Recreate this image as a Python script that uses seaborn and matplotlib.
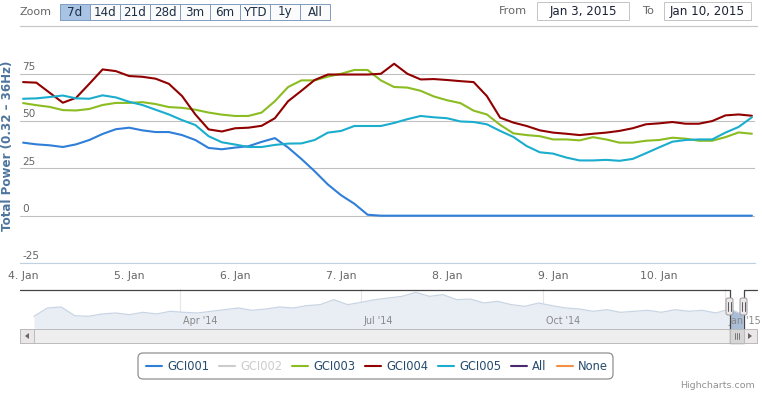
import numpy as np
import pandas as pd
import matplotlib
matplotlib.use("Agg")
import matplotlib.pyplot as plt
import matplotlib.dates as mdates
from matplotlib.ticker import FuncFormatter
from matplotlib.transforms import Affine2D
from matplotlib.patches import Rectangle, FancyBboxPatch, Polygon
from matplotlib.lines import Line2D
import seaborn as sns

W, H = 762, 393

# ---- data ----------------------------------------------------------------
start = pd.Timestamp("2015-01-04")
hours = np.arange(0, 166, 3)          # 3-hourly samples, 4 Jan 00:00 -> 10 Jan 21:00

gci001 = [38.6, 37.7, 37.2, 36.3, 37.7, 40.0, 43.2, 45.7, 46.5, 45.1, 44.2, 44.2,
          42.6, 40.0, 35.8, 35.1, 36.0, 36.7, 39.0, 41.0, 36.0, 30.0, 23.5, 16.5,
          10.8, 6.3, 0.5] + [0.0] * 29
gci003 = [59.5, 58.4, 57.5, 55.8, 55.6, 56.4, 58.5, 59.6, 59.6, 60.0, 59.0, 57.4,
          57.0, 56.0, 54.5, 53.4, 52.7, 52.7, 54.5, 60.5, 68.0, 71.5, 71.5, 73.5,
          75.0, 77.0, 77.0, 71.5, 68.0, 67.7, 66.0, 63.0, 61.0, 59.5, 55.5, 53.5,
          48.0, 43.5, 42.6, 42.0, 40.3, 40.3, 39.8, 41.5, 40.3, 38.6, 38.6, 39.6,
          40.0, 41.2, 40.7, 39.6, 39.6, 41.5, 44.0, 43.3]
gci004 = [70.6, 70.3, 65.0, 59.7, 62.3, 69.7, 77.3, 76.4, 73.8, 73.4, 72.4, 69.7,
          63.2, 53.5, 45.6, 44.5, 46.2, 46.5, 47.5, 51.5, 60.5, 66.0, 71.7, 74.6,
          74.6, 74.6, 74.6, 75.0, 80.3, 75.0, 72.0, 72.2, 71.7, 71.1, 70.6, 63.2,
          51.8, 49.2, 47.4, 45.1, 43.9, 43.3, 42.6, 43.3, 43.9, 44.8, 46.2, 48.3,
          48.8, 49.5, 48.6, 48.6, 50.0, 53.0, 53.5, 52.8]
gci005 = [61.8, 62.0, 62.7, 63.5, 62.0, 61.8, 63.6, 62.5, 60.2, 58.5, 56.0, 53.5,
          50.5, 47.9, 42.0, 38.8, 37.6, 36.3, 36.3, 37.4, 38.1, 38.2, 40.0, 43.9,
          44.8, 47.4, 47.4, 47.4, 49.0, 51.0, 52.7, 52.0, 51.5, 49.8, 49.5, 48.3,
          44.8, 41.6, 36.8, 33.5, 32.8, 30.7, 29.2, 29.2, 29.5, 29.0, 30.0, 33.0,
          36.1, 39.1, 40.0, 40.3, 40.3, 43.9, 46.9, 52.0]

legend_names = ["GCI001", "GCI002", "GCI003", "GCI004", "GCI005", "All", "None"]
palette = {"GCI001": "#2f7ed8", "GCI002": "#cccccc", "GCI003": "#8bbc21",
           "GCI004": "#910000", "GCI005": "#1aadce", "All": "#492970", "None": "#f28f43"}
hidden = ["GCI002"]

yticks = [-25, 0, 25, 50, 75]
xtick_days = pd.date_range("2015-01-04", "2015-01-10", freq="D")

# navigator: weekly overview of the last year
nav_power = [28.5, 47.3, 49.5, 30.0, 28.5, 33.8, 36.0, 32.3, 37.5, 33.8, 39.8, 37.5,
             36.0, 39.8, 43.5, 47.3, 42.0, 45.0, 49.5, 47.3, 52.5, 54.8, 66.0, 54.8,
             60.0, 66.0, 69.8, 73.5, 82.5, 73.5, 77.3, 66.0, 67.5, 58.5, 62.3, 54.8,
             51.0, 58.5, 52.5, 47.3, 45.0, 39.8, 43.5, 37.5, 39.8, 42.0, 37.5, 43.5,
             39.8, 42.0, 36.0, 45.0, 32.3]
nav_dates = pd.date_range("2014-01-17", "2015-01-10", periods=len(nav_power))
nav_ticks = pd.to_datetime(["2014-04-01", "2014-07-01", "2014-10-01", "2015-01-01"])
nav_labels = ["Apr '14", "Jul '14", "Oct '14", "Jan '15"]
sel_from, sel_to = pd.Timestamp("2015-01-03"), pd.Timestamp("2015-01-10")

range_buttons = ["7d", "14d", "21d", "28d", "3m", "6m", "YTD", "1y", "All"]

# ---- figure ----------------------------------------------------------------
sns.set_style("white")
plt.rcParams["font.family"] = ["DejaVu Sans"]

fig = plt.figure(figsize=(W / 100, H / 100), dpi=100)
pix = Affine2D().scale(1 / W, -1 / H).translate(0, 1) + fig.transFigure


def box(x0, y0, x1, y1):
    return [x0 / W, 1 - y1 / H, (x1 - x0) / W, (y1 - y0) / H]


def rect(x0, y0, x1, y1, fc, ec, lw=0.8, z=3, rounding=0):
    if rounding:
        p = FancyBboxPatch((x0, y0), x1 - x0, y1 - y0,
                           boxstyle=f"round,pad=0,rounding_size={rounding}",
                           fc=fc, ec=ec, lw=lw, transform=pix, zorder=z)
    else:
        p = Rectangle((x0, y0), x1 - x0, y1 - y0, fc=fc, ec=ec, lw=lw,
                      transform=pix, zorder=z)
    fig.add_artist(p)
    return p


def line(xs, ys, color, lw=0.8, z=4):
    fig.add_artist(Line2D(xs, ys, color=color, lw=lw, transform=pix, zorder=z))


def label(x, y, s, **kw):
    kw.setdefault("va", "center")
    return fig.text(x, y, s, transform=pix, **kw)


# main plot
ax = fig.add_axes(box(20, 38, 755, 263))
times = start + pd.to_timedelta(hours, unit="h")
series = {"GCI001": gci001, "GCI003": gci003, "GCI004": gci004, "GCI005": gci005}
df = pd.concat([pd.DataFrame({"time": times, "power": v, "sensor": k})
                for k, v in series.items()], ignore_index=True)
sns.lineplot(data=df, x="time", y="power", hue="sensor", hue_order=list(series),
             palette=palette, linewidth=1.5, legend=False, estimator=None,
             errorbar=None, ax=ax)

ax.set_ylim(-25, 93.9)
ax.set_xlim(start - pd.Timedelta(hours=0.7), start + pd.Timedelta(hours=165.7))
ax.set_yticks(yticks)
ax.set_yticklabels([])
ax.yaxis.grid(True, color="#c0c0c0", lw=0.8)
ax.tick_params(axis="y", length=0)
for v in yticks:
    ax.annotate(str(v), xy=(0, v), xycoords=("axes fraction", "data"),
                xytext=(1.5, 1.2), textcoords="offset points", ha="left",
                va="bottom", fontsize=7.6, color="#666666")
ax.set_xticks(xtick_days)
ax.xaxis.set_major_formatter(FuncFormatter(
    lambda v, p: f"{mdates.num2date(v).day}. {mdates.num2date(v):%b}"))
ax.tick_params(axis="x", length=4, width=0.8, color="#c0d0e0", pad=1.5,
               labelsize=7.8, labelcolor="#666666")
ax.set_xlabel("")
ax.set_ylabel("")
for s in ["top", "left", "right"]:
    ax.spines[s].set_visible(False)
ax.spines["bottom"].set_color("#c0d0e0")
ax.spines["bottom"].set_linewidth(0.8)

label(8, 146, "Total Power (0.32 – 36Hz)", rotation=90, ha="center",
      color="#4d759e", fontsize=8.6, fontweight="bold")

# range selector / date inputs
label(20, 12, "Zoom", ha="left", color="#666666", fontsize=8)
for i, b in enumerate(range_buttons):
    x0 = 60 + 30 * i
    rect(x0, 4, x0 + 30, 19.5, "#a8c3e3" if i == 0 else "#fbfbfb", "#7f9bbf", lw=0.7)
    label(x0 + 15, 12, b, ha="center", color="#1c2f45", fontsize=8.6)
line([20, 757], [25.5, 25.5], "#c8c8c8", lw=0.9)
label(513, 11.5, "From", ha="center", color="#666666", fontsize=8.2)
rect(537, 1.5, 629, 19.5, "white", "#c4c4c4", lw=0.7)
label(583, 11, "Jan 3, 2015", ha="center", color="#1c2235", fontsize=8.6)
label(648, 11.5, "To", ha="center", color="#666666", fontsize=8.2)
rect(664, 1.5, 751, 19.5, "white", "#c4c4c4", lw=0.7)
label(707.5, 11, "Jan 10, 2015", ha="center", color="#1c2235", fontsize=8.6)

# navigator
nav = fig.add_axes(box(20, 289, 757, 329))
nav_df = pd.DataFrame({"date": nav_dates, "power": nav_power})
nav.fill_between(nav_df["date"], nav_df["power"], color="#e9eef5", lw=0)
sns.lineplot(data=nav_df, x="date", y="power", color="#c9d5e4", linewidth=0.9, ax=nav)
sel = nav_df[nav_df["date"] >= sel_from]
nav.fill_between(sel["date"], sel["power"], color="#aabed8", lw=0)
nav.set_xlim(pd.Timestamp("2014-01-10"), pd.Timestamp("2015-01-17"))
nav.set_ylim(0, 90)
nav.set_xticks(nav_ticks)
nav.xaxis.grid(True, color="#e6e6e6", lw=0.8)
nav.tick_params(length=0, labelbottom=False, labelleft=False)
nav.set_xlabel("")
nav.set_ylabel("")
for s in nav.spines.values():
    s.set_visible(False)
for d, t in zip(nav_ticks, nav_labels):
    nav.annotate(t, xy=(d, 0), xycoords=("data", "axes fraction"), xytext=(2, 2.5),
                 textcoords="offset points", ha="left", va="bottom",
                 fontsize=6.9, color="#888888")

# selected-range handles from the navigator scale
hx = [nav.transData.transform((mdates.date2num(d), 0))[0] for d in (sel_from, sel_to)]
hx = [round(v) + 0.5 for v in hx]
outline_y = 289.5
line([20, hx[0], hx[0], hx[1], hx[1], 757],
     [outline_y, outline_y, 343, 343, outline_y, outline_y], "#444444", lw=0.9)

# scrollbar
rect(20, 329, 757, 343, "#eeeeee", "#bbbbbb", lw=0.7, z=3)
rect(20, 329, 34, 343, "#ebe7e8", "#bbbbbb", lw=0.7, z=5)
fig.add_artist(Polygon([(25, 336), (29, 333), (29, 339)], closed=True, fc="#666666",
                       ec="none", transform=pix, zorder=6))
rect(743, 329, 757, 343, "#ebe7e8", "#bbbbbb", lw=0.7, z=5)
fig.add_artist(Polygon([(752, 336), (748, 333), (748, 339)], closed=True, fc="#666666",
                       ec="none", transform=pix, zorder=6))
rect(hx[0], 329, hx[1], 343, "#d6d6d6", "#bbbbbb", lw=0.7, z=5)
gc = (hx[0] + hx[1]) / 2
for dx in (-2, 0, 2):
    line([gc + dx, gc + dx], [333, 339], "#666666", lw=0.6, z=6)

for x in hx:
    rect(x - 3.5, 298, x + 3.5, 315, "#ebe7e8", "#9a9a9e", lw=0.7, z=7, rounding=2)
    for dx in (-1.2, 1.2):
        line([x + dx, x + dx], [302, 311], "#444444", lw=0.6, z=8)

# legend
rect(138, 353, 613, 379, "white", "#909090", lw=0.9, z=3, rounding=5)
renderer = fig.canvas.get_renderer()
x = 146
for name in legend_names:
    line([x, x + 16], [366, 366], palette[name], lw=1.5, z=5)
    t = label(x + 21, 366, name, ha="left", fontsize=8.3,
              color="#cccccc" if name in hidden else "#274b6d")
    w = t.get_window_extent(renderer).width
    x = x + 21 + w + 10

label(755, 386, "Highcharts.com", ha="right", color="#909090", fontsize=6.8)

fig.savefig("out.png", dpi=100)
